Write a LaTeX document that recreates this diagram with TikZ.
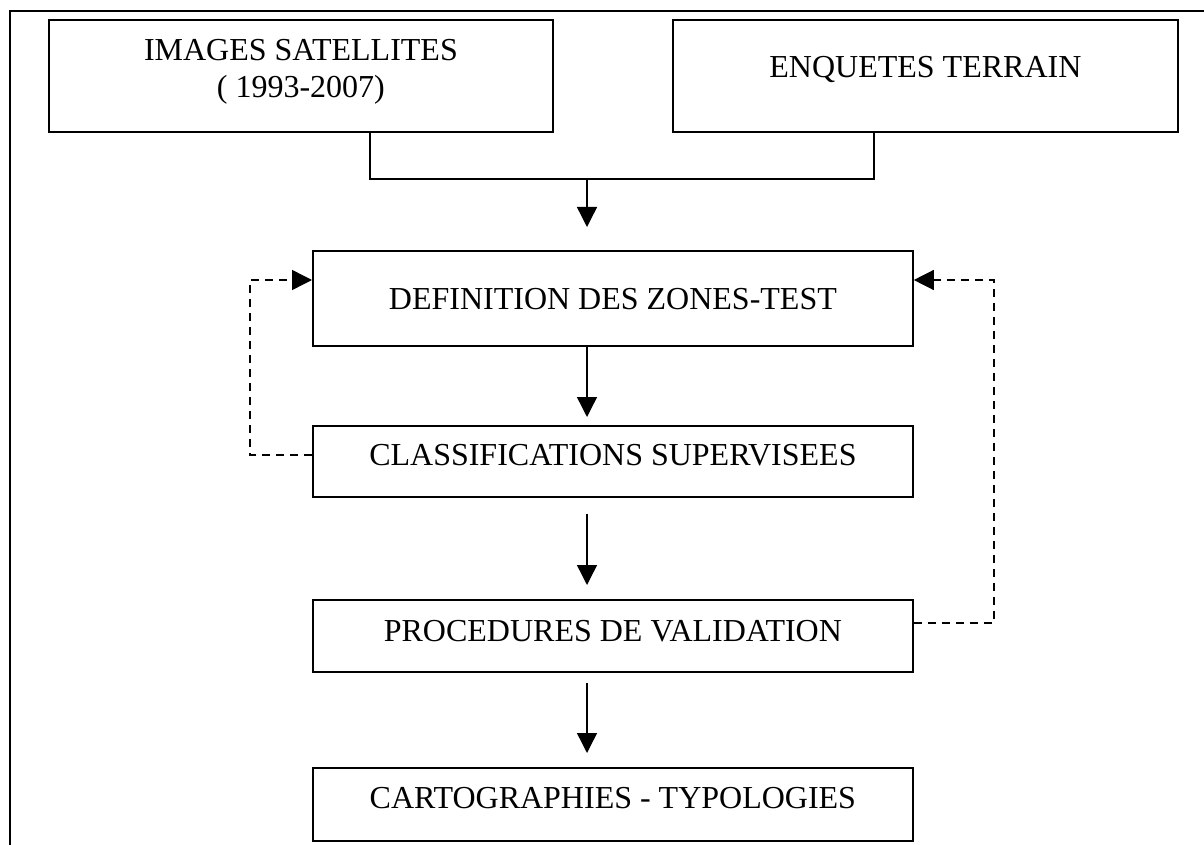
\documentclass[tikz,border=0pt]{standalone}
\usepackage{fontspec}
\setmainfont{Liberation Serif}
\usetikzlibrary{arrows.meta, positioning, calc}

\begin{document}
\begin{tikzpicture}[x=0.5pt, y=-0.5pt,
    every node/.style={font=\fontsize{16}{18.5}\selectfont},
    box/.style={draw, line width=0.9pt, inner sep=0pt, anchor=north west, align=center},
    arr/.style={-{Triangle[length=10pt, width=10pt]}, line width=0.7pt},
    fb/.style={arr, dash pattern=on 4pt off 3pt}]
        \useasboundingbox (0,0) rectangle (1204,845);
        \draw[line width=1.2pt] (10,845) -- (10,11) -- (1204,11);
        \node[box, minimum width=252pt, text height=39pt, text depth=17pt] (sat) at (48,19) {IMAGES SATELLITES\\( 1993-2007)};
        \node[box, minimum width=252.5pt, text height=29pt, text depth=27pt] (enq) at (672,19) {ENQUETES TERRAIN};
        \node[box, minimum width=300pt, text height=29.5pt, text depth=18pt] (def) at (312,250) {DEFINITION DES ZONES-TEST};
        \node[box, minimum width=300pt, text height=20pt, text depth=15.5pt] (cls) at (312,425) {CLASSIFICATIONS SUPERVISEES};
        \node[box, minimum width=300pt, text height=21pt, text depth=15pt] (val) at (312,599) {PROCEDURES DE VALIDATION};
        \node[box, minimum width=300pt, text height=20.5pt, text depth=16pt] (car) at (312,767) {CARTOGRAPHIES - TYPOLOGIES};
        \coordinate (axis) at (587,179); \coordinate (jl) at (370,179); \coordinate (jr) at (874,179);
        \draw[line width=0.7pt] (sat.south -| jl) -- (jl) -- (jr) -- (enq.south -| jr);
        \draw[arr, shorten >=11.5pt] (axis) -- (axis |- def.north);
        \draw[arr, shorten >=4pt] (def.south -| axis) -- (cls.north -| axis);
        \draw[arr, shorten <=8pt, shorten >=7pt] (cls.south -| axis) -- (val.north -| axis);
        \draw[arr, shorten <=5pt, shorten >=7pt] (val.south -| axis) -- (car.north -| axis);
        \coordinate (lb) at (250,455); \coordinate (lt) at (250,280);
        \draw[fb] (cls.west |- lb) -- (lb) -- (lt) -- (def.west |- lt);
        \coordinate (rb) at (994,623); \coordinate (rt) at (994,280);
        \draw[fb] (val.east |- rb) -- (rb) -- (rt) -- (def.east |- rt);
      \end{tikzpicture}
\end{document}
